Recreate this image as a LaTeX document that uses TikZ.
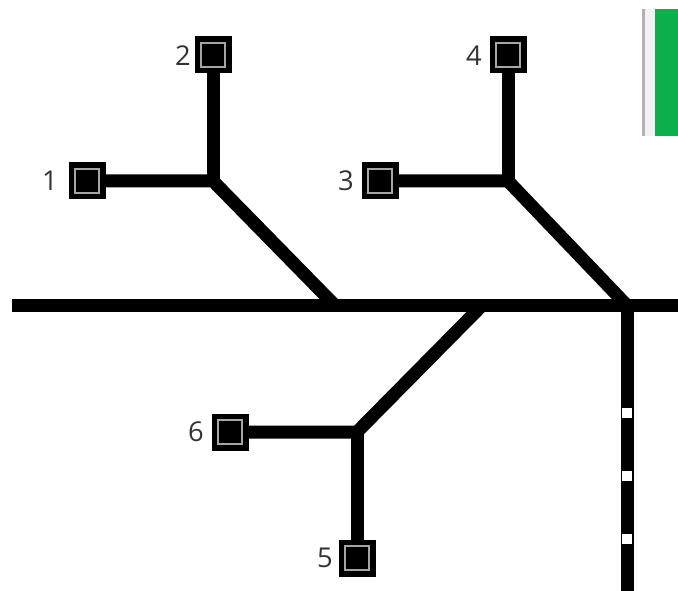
\documentclass[tikz,border=0pt]{standalone}
\usepackage{fontspec}
\setmainfont{Open Sans}
\definecolor{tgreen}{HTML}{0BB04B}
\definecolor{tink}{HTML}{333333}
\tikzset{
  x=0.75pt,y=-0.75pt,
  track/.style={line width=9.75pt,line join=miter,black},
  station/.style={draw=black,fill=black,line width=0pt,minimum size=27pt,inner sep=0pt,outer sep=0pt,shape=rectangle},
  ring/.style={draw=black!35,fill=black,line width=1.6pt,minimum size=18.5pt,inner sep=0pt,shape=rectangle},
  lbl/.style={font=\fontsize{20.5}{20.5}\selectfont,text=tink,inner sep=0pt,anchor=east},
  blip/.style={fill=white,draw=none,minimum size=8pt,inner sep=0pt,shape=rectangle}
}
\begin{document}
\begin{tikzpicture}
\useasboundingbox (0,0) rectangle (678,591);
% side panel
\fill[black!5] (642,9) rectangle (655,136);
\fill[black!30] (642,9) rectangle (645,136);
\fill[tgreen] (655,9) rectangle (678,136);
% junctions
\coordinate (mainL) at (12,305.5);
\coordinate (mainR) at (678,305.5);
\coordinate (a) at (335,305.5);
\coordinate (b) at (627,305.5);
\coordinate (c) at (482,305.5);
\coordinate (jA) at (213,181);
\coordinate (jB) at (508,181);
\coordinate (jC) at (357,432);
\coordinate (down) at (627,591);
% stations
\node[station] (s1) at (87,181) {};
\node[station] (s2) at (213,55) {};
\node[station] (s3) at (380,181) {};
\node[station] (s4) at (508,55) {};
\node[station] (s5) at (357,558) {};
\node[station] (s6) at (230,432) {};
% tracks
\draw[track] (mainL) -- (mainR);
\draw[track] (b) -- (down);
\draw[track] (s1) -- (jA) -- (a);
\draw[track] (s2) -- (jA);
\draw[track] (s3) -- (jB) -- (b);
\draw[track] (s4) -- (jB);
\draw[track] (s6) -- (jC) -- (c);
\draw[track] (s5) -- (jC);
% inner rings
\foreach \n in {s1,s2,s3,s4,s5,s6} \node[ring] at (\n) {};
% labels
\node[lbl] (l1) at (58,181) {1};
\node[lbl] (l2) at (191,56) {2};
\node[lbl] (l3) at (354,181) {3};
\node[lbl] (l4) at (482,56) {4};
\node[lbl] (l5) at (333,558) {5};
\node[lbl] (l6) at (204,432) {6};
% blips
\node[blip] (w1) at (627,413) {};
\node[blip] (w2) at (627,476) {};
\node[blip] (w3) at (627,539) {};
\end{tikzpicture}
\end{document}
